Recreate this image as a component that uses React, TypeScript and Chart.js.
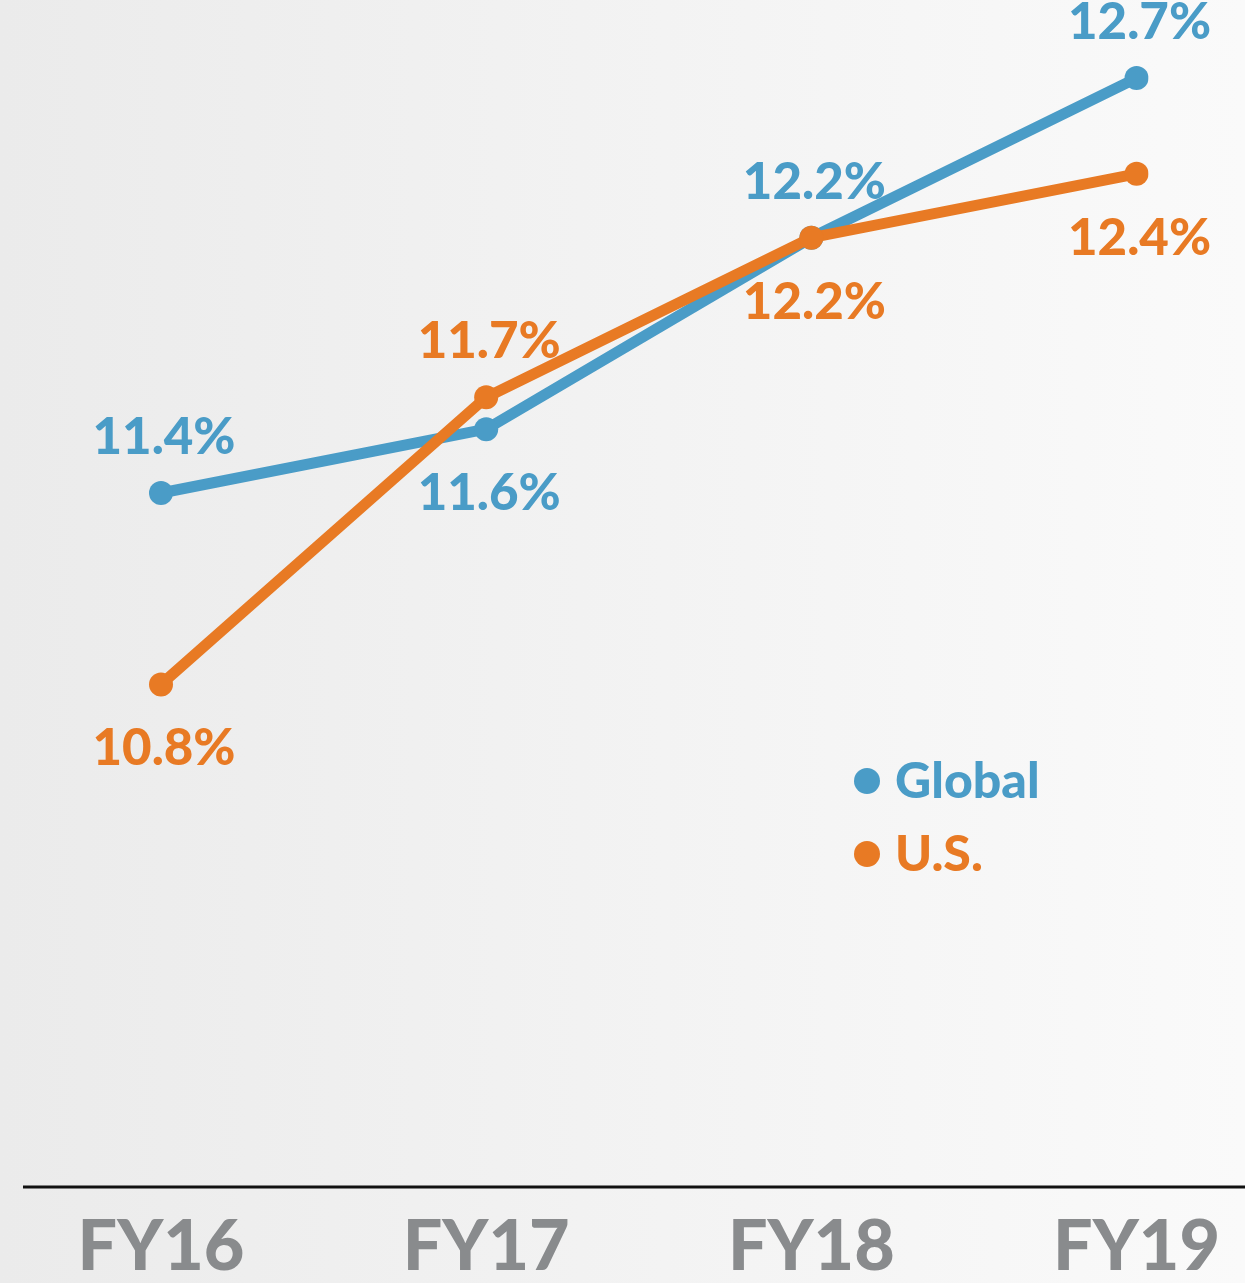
import React, { useEffect, useRef } from "react";
import { Chart, registerables } from "chart.js";

Chart.register(...registerables);

const categories = ["FY16", "FY17", "FY18", "FY19"];
const globalValues = [11.4, 11.6, 12.2, 12.7];
const usValues = [10.8, 11.7, 12.2, 12.4];
const globalLabelSide = ["above", "below", "above", "above"];
const usLabelSide = ["below", "above", "below", "below"];
const seriesNames = ["Global", "U.S."];

const BLUE = "#4a9cc7";
const ORANGE = "#e87a24";
const FONT = "Lato, 'Open Sans', sans-serif";

const backgroundPlugin = {
  id: "bgGradient",
  beforeDraw(chart: any) {
    const { ctx, width, height } = chart;
    const g = ctx.createLinearGradient(0, 0, width, 0);
    g.addColorStop(0, "#ebebeb");
    g.addColorStop(1, "#fafafa");
    ctx.save();
    ctx.fillStyle = g;
    ctx.fillRect(0, 0, width, height);
    ctx.restore();
  },
};

const baselinePlugin = {
  id: "baseline",
  beforeDatasetsDraw(chart: any) {
    const { ctx, chartArea, width } = chart;
    ctx.save();
    ctx.strokeStyle = "#111111";
    ctx.lineWidth = 3;
    ctx.beginPath();
    ctx.moveTo(23, chartArea.bottom);
    ctx.lineTo(width, chartArea.bottom);
    ctx.stroke();
    ctx.restore();
  },
};

const valueLabelPlugin = {
  id: "valueLabels",
  afterDatasetsDraw(chart: any) {
    const { ctx } = chart;
    ctx.save();
    ctx.font = `900 51px ${FONT}`;
    ctx.textAlign = "center";
    ctx.textBaseline = "alphabetic";
    chart.data.datasets.forEach((ds: any, di: number) => {
      const meta = chart.getDatasetMeta(di);
      meta.data.forEach((pt: any, i: number) => {
        const side = ds.labelSide[i];
        const y = side === "above" ? pt.y - 39 : pt.y + 81;
        ctx.fillStyle = ds.borderColor;
        ctx.fillText(ds.data[i].toFixed(1) + "%", pt.x + 3, y);
      });
    });
    ctx.restore();
  },
};

const legendPlugin = {
  id: "customLegend",
  afterDraw(chart: any) {
    const { ctx } = chart;
    ctx.save();
    ctx.font = `900 50px ${FONT}`;
    ctx.textAlign = "left";
    ctx.textBaseline = "alphabetic";
    const items = [...chart.data.datasets].sort((a: any, b: any) => a.legendIndex - b.legendIndex);
    items.forEach((ds: any, k: number) => {
      const cy = 781 + k * 73;
      ctx.fillStyle = ds.borderColor;
      ctx.beginPath();
      ctx.arc(867, cy, 13, 0, Math.PI * 2);
      ctx.fill();
      ctx.fillText(ds.label, 895, cy + 17);
    });
    ctx.restore();
  },
};

export default function App() {
  const canvasRef = useRef<HTMLCanvasElement | null>(null);

  useEffect(() => {
    if (!canvasRef.current) return;
    const chart = new Chart(canvasRef.current, {
      type: "line",
      data: {
        labels: categories,
        datasets: [
          {
            label: seriesNames[0],
            data: globalValues,
            borderColor: BLUE,
            backgroundColor: BLUE,
            pointBackgroundColor: BLUE,
            pointBorderWidth: 0,
            pointRadius: 12,
            borderWidth: 11,
            tension: 0,
            order: 1,
            labelSide: globalLabelSide,
            legendIndex: 0,
          } as any,
          {
            label: seriesNames[1],
            data: usValues,
            borderColor: ORANGE,
            backgroundColor: ORANGE,
            pointBackgroundColor: ORANGE,
            pointBorderWidth: 0,
            pointRadius: 12,
            borderWidth: 11,
            tension: 0,
            order: 0,
            labelSide: usLabelSide,
            legendIndex: 1,
          } as any,
        ],
      },
      options: {
        responsive: false,
        animation: false,
        layout: { padding: { left: 161, right: 108, top: 0, bottom: -24 } },
        plugins: {
          legend: { display: false },
          tooltip: { enabled: false },
        },
        scales: {
          x: {
            offset: false,
            grid: { display: false, drawTicks: false },
            border: { display: false },
            ticks: {
              color: "#898b8d",
              font: { family: FONT, size: 70, weight: "900", lineHeight: 1 },
              padding: 25,
              maxRotation: 0,
              autoSkip: false,
            },
          },
          y: {
            display: false,
            min: 9.2256,
            max: 12.907,
          },
        },
      },
      plugins: [backgroundPlugin, baselinePlugin, valueLabelPlugin, legendPlugin],
    });
    return () => chart.destroy();
  }, []);

  return (
    <div style={{ position: "absolute", left: 0, top: 0, width: 1245, height: 1283 }}>
      <canvas ref={canvasRef} width={1245} height={1283} style={{ display: "block" }} />
    </div>
  );
}
